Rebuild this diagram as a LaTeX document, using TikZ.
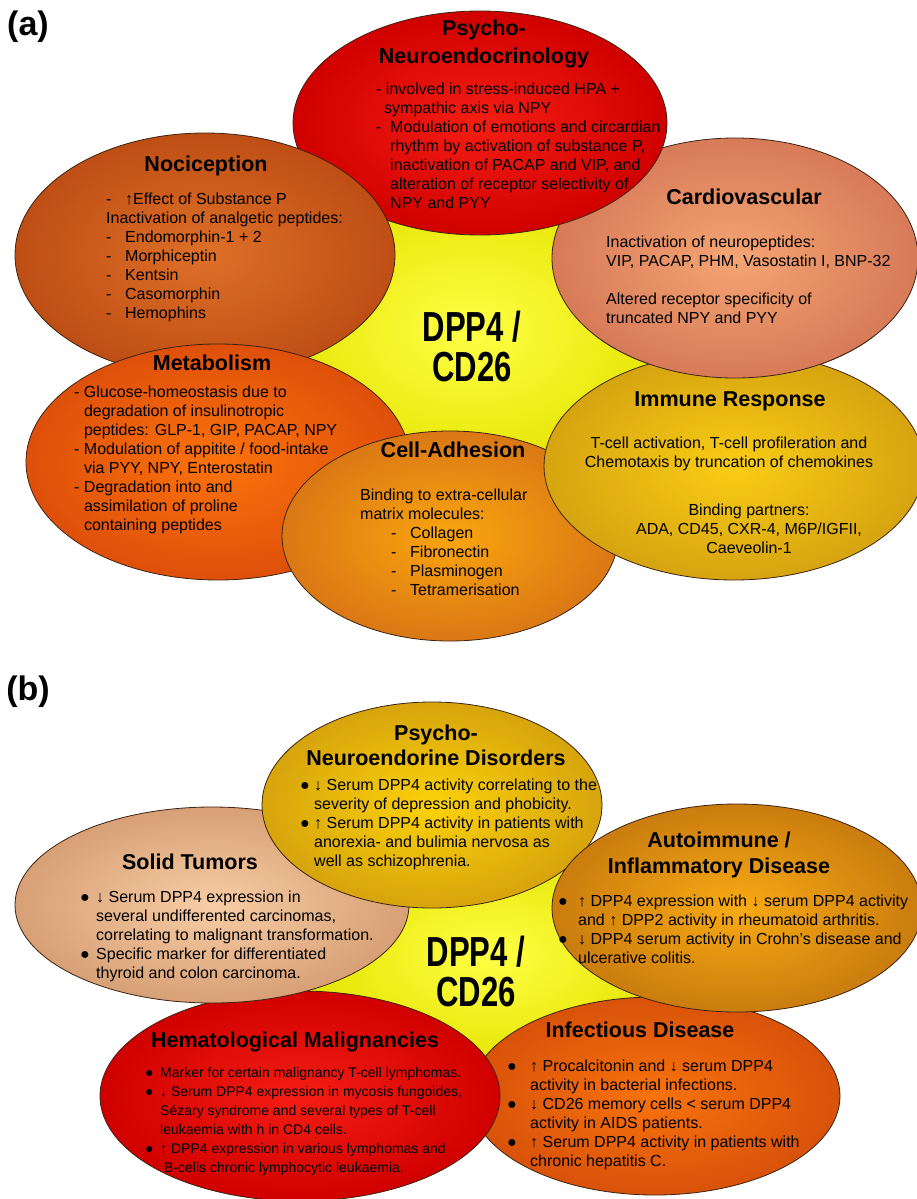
\documentclass[tikz,border=0pt]{standalone}
\usepackage{fontspec}
\setmainfont{Liberation Sans}
\newfontfamily\narrowsans[FakeStretch=0.74]{Liberation Sans}
\usetikzlibrary{shapes.geometric}
\definecolor{hubI}{RGB}{255,255,70}
\definecolor{hubO}{RGB}{228,228,0}
\definecolor{redI}{RGB}{245,30,20}
\definecolor{redO}{RGB}{208,0,0}
\definecolor{nocI}{RGB}{222,112,40}
\definecolor{nocO}{RGB}{190,78,20}
\definecolor{carI}{RGB}{245,165,115}
\definecolor{carO}{RGB}{215,122,88}
\definecolor{metI}{RGB}{252,115,12}
\definecolor{metO}{RGB}{222,80,10}
\definecolor{celI}{RGB}{250,165,15}
\definecolor{celO}{RGB}{218,120,20}
\definecolor{immI}{RGB}{250,205,20}
\definecolor{immO}{RGB}{214,164,16}
\definecolor{psyI}{RGB}{252,210,10}
\definecolor{psyO}{RGB}{214,164,12}
\definecolor{solI}{RGB}{248,205,165}
\definecolor{solO}{RGB}{215,160,118}
\definecolor{autI}{RGB}{248,170,20}
\definecolor{autO}{RGB}{202,124,14}
\definecolor{infI}{RGB}{248,115,12}
\definecolor{infO}{RGB}{216,82,10}
\newcommand{\bl}[1][15pt]{\makebox[#1][l]{●}}
\newcommand{\cn}[1][15pt]{\hspace*{#1}}
\tikzset{
  petal/.style={ellipse, draw={rgb,255:red,60;green,35;blue,20}, line width=0.8pt, inner sep=0pt},
  tint/.style 2 args={inner color=#1, outer color=#2},
  ttl/.style={font=\bfseries\fontsize{21.5}{26}\selectfont, align=center, inner sep=0pt},
  txt/.style={font=\fontsize{16}{19}\selectfont, align=left, anchor=west, inner sep=0pt},
  ctxt/.style={font=\fontsize{16}{19}\selectfont, align=center, inner sep=0pt},
  dpp/.style={font=\narrowsans\bfseries\fontsize{42}{40}\selectfont, align=center, inner sep=0pt},
  panel/.style={font=\bfseries\fontsize{34}{40}\selectfont, inner sep=0pt}
}
\begin{document}
\begin{tikzpicture}[x=1pt, y=-1pt]
  \useasboundingbox[fill=white] (0,0) rectangle (917,1199);
  \node[panel] (la) at (28,27) {(a)};
  \node[petal, tint={hubI}{hubO}, minimum width=420pt, minimum height=300pt] (hubA) at (470,330) {};
  \node[dpp] (dppA) at (472,346) {DPP4 /\\CD26};
  \node[petal, tint={carI}{carO}, minimum width=366pt, minimum height=240pt] (carA) at (735,258) {};
  \node[ttl] (carT) at (744,197) {Cardiovascular};
  \node[txt] (carB) at (606,280) {Inactivation of neuropeptides:\\VIP, PACAP, PHM, Vasostatin I, BNP-32\\[19pt]Altered receptor specificity of\\truncated NPY and PYY};
  \node[petal, tint={redI}{redO}, minimum width=374pt, minimum height=224pt] (psyA) at (480,123) {};
  \node[ttl, font=\bfseries\fontsize{21.5}{28}\selectfont] (psyAT) at (484,44) {Psycho-\\Neuroendocrinology};
  \node[txt] (psyAB) at (376,146) {- involved in stress-induced HPA +\\\cn[8pt]sympathic axis via NPY\\\makebox[14pt][l]{-}Modulation of emotions and circardian\\\cn[14pt]rhythm by activation of substance P,\\\cn[14pt]inactivation of PACAP and VIP, and\\\cn[14pt]alteration of receptor selectivity of\\\cn[14pt]NPY and PYY};
  \node[petal, tint={nocI}{nocO}, minimum width=380pt, minimum height=244pt] (nocA) at (205,255) {};
  \node[ttl] (nocT) at (206,166) {Nociception};
  \node[txt] (nocB) at (106,257) {\makebox[19pt][l]{-}↑Effect of Substance P\\Inactivation of analgetic peptides:\\\makebox[19pt][l]{-}Endomorphin-1 + 2\\\makebox[19pt][l]{-}Morphiceptin\\\makebox[19pt][l]{-}Kentsin\\\makebox[19pt][l]{-}Casomorphin\\\makebox[19pt][l]{-}Hemophins};
  \node[petal, tint={metI}{metO}, minimum width=384pt, minimum height=236pt] (metA) at (218,462) {};
  \node[ttl] (metT) at (212,363) {Metabolism};
  \node[txt] (metB) at (74,460) {- Glucose-homeostasis due to\\\cn[9.8pt]degradation of insulinotropic\\\cn[9.8pt]peptides: GLP-1, GIP, PACAP, NPY\\- Modulation of appitite / food-intake\\\cn[9.8pt]via PYY, NPY, Enterostatin\\- Degradation into and\\\cn[9.8pt]assimilation of proline\\\cn[9.8pt]containing peptides};
  \node[petal, tint={celI}{celO}, minimum width=336pt, minimum height=210pt] (celA) at (450,536) {};
  \node[ttl] (celT) at (453,450) {Cell-Adhesion};
  \node[txt] (celB) at (360,542) {Binding to extra-cellular\\matrix molecules:\\\cn[31pt]\makebox[19pt][l]{-}Collagen\\\cn[31pt]\makebox[19pt][l]{-}Fibronectin\\\cn[31pt]\makebox[19pt][l]{-}Plasminogen\\\cn[31pt]\makebox[19pt][l]{-}Tetramerisation};
  \node[petal, tint={immI}{immO}, minimum width=380pt, minimum height=228pt] (immA) at (734,466) {};
  \node[ttl] (immT) at (730,401) {Immune Response};
  \node[ctxt] (immB) at (729,454) {T-cell activation, T-cell profileration and\\Chemotaxis by truncation of chemokines};
  \node[ctxt] (immC) at (749,529) {Binding partners:\\ADA, CD45, CXR-4, M6P/IGFII,\\Caeveolin-1};
  \begin{scope}
    \clip (540,336) rectangle (930,386);
    \node[petal, tint={carI}{carO}, minimum width=366pt, minimum height=240pt] (carA2) at (735,258) {};
  \end{scope}
  \node[panel] (lb) at (28,692) {(b)};
  \node[petal, tint={hubI}{hubO}, minimum width=380pt, minimum height=230pt] (hubB) at (490,955) {};
  \node[dpp] (dppB) at (476,971) {DPP4 /\\CD26};
  \node[petal, tint={infI}{infO}, minimum width=370pt, minimum height=198pt] (infB) at (655,1096) {};
  \node[ttl] (infT) at (640,1030) {Infectious Disease};
  \node[txt] (infX) at (507,1115) {\bl[23pt]↑ Procalcitonin and ↓ serum DPP4\\\cn[23pt]activity in bacterial infections.\\\bl[23pt]↓ CD26 memory cells < serum DPP4\\\cn[23pt]activity in AIDS patients.\\\bl[23pt]↑ Serum DPP4 activity in patients with\\\cn[23pt]chronic hepatitis C.};
  \node[petal, tint={redI}{redO}, minimum width=400pt, minimum height=210pt] (hemB) at (300,1096) {};
  \node[ttl] (hemT) at (295,1042) {Hematological Malignancies};
  \node[txt, font=\fontsize{14}{19}\selectfont] (hemX) at (145,1121) {\bl Marker for certain malignancy T-cell lymphomas.\\\bl↓ Serum DPP4 expression in mycosis fungoides,\\\cn Sézary syndrome and several types of T-cell\\\cn leukaemia with h in CD4 cells.\\\bl↑ DPP4 expression in various lymphomas and\\\cn[19pt]B-cells chronic lymphocytic leukaemia.};
  \node[petal, tint={solI}{solO}, minimum width=394pt, minimum height=196pt] (solB) at (212,905) {};
  \node[ttl] (solT) at (190,862) {Solid Tumors};
  \node[txt] (solX) at (80,936) {\bl[16pt]↓ Serum DPP4 expression in\\\cn[16pt]several undifferented carcinomas,\\\cn[16pt]correlating to malignant transformation.\\\bl[16pt]Specific marker for differentiated\\\cn[16pt]thyroid and colon carcinoma.};
  \node[petal, tint={psyI}{psyO}, minimum width=340pt, minimum height=206pt] (psyB) at (432,805) {};
  \node[ttl, font=\bfseries\fontsize{21.5}{25}\selectfont] (psyBT) at (436,745) {Psycho-\\Neuroendorine Disorders};
  \node[txt] (psyBX) at (300,824) {\bl[14pt]↓ Serum DPP4 activity correlating to the\\\cn[14pt]severity of depression and phobicity.\\\bl[14pt]↑ Serum DPP4 activity in patients with\\\cn[14pt]anorexia- and bulimia nervosa as\\\cn[14pt]well as schizophrenia.};
  \node[petal, tint={autI}{autO}, minimum width=370pt, minimum height=208pt] (autB) at (737,908) {};
  \node[ttl] (autT) at (719,855) {Autoimmune /\\Inflammatory Disease};
  \node[txt] (autX) at (558,929) {\bl[20pt]↑ DPP4 expression with ↓ serum DPP4 activity\\\cn[20pt]and ↑ DPP2 activity in rheumatoid arthritis.\\\bl[20pt]↓ DPP4 serum activity in Crohn's disease and\\\cn[20pt]ulcerative colitis.};
\end{tikzpicture}
\end{document}
